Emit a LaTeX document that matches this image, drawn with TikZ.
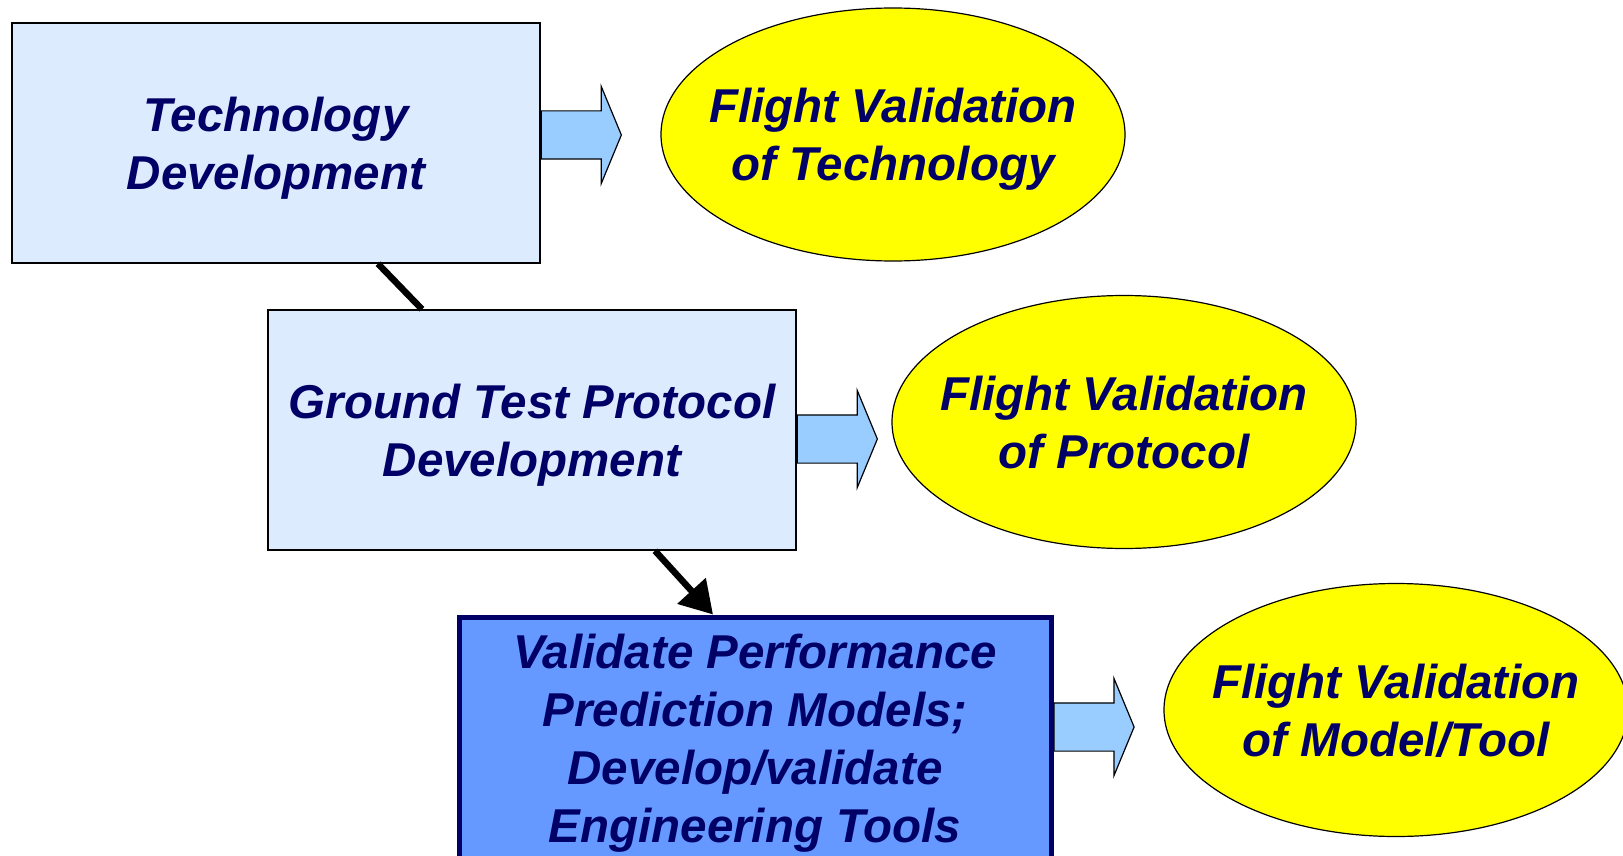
\documentclass[tikz,border=0pt]{standalone}
\usepackage{fontspec}
\setmainfont{Liberation Sans}
\usepackage{xcolor}
\usetikzlibrary{shapes,arrows.meta,positioning}

\definecolor{navy}{RGB}{0,0,102}
\definecolor{paleblue}{RGB}{221,235,255}
\definecolor{midblue}{RGB}{102,153,255}
\definecolor{arrowblue}{RGB}{153,204,255}
\definecolor{goalyellow}{RGB}{255,255,0}

\begin{document}
\begin{tikzpicture}[
    x=1pt, y=-1pt,
    font=\fontsize{47.5}{58}\selectfont\bfseries\itshape,
    box/.style={rectangle, draw, line width=1.5pt, fill=paleblue, minimum width=528pt, minimum height=240pt, align=center, text=navy, text depth=0pt},
    goal/.style={ellipse, draw, line width=1.2pt, fill=goalyellow, minimum width=464pt, minimum height=253pt, inner xsep=-50pt, inner ysep=0pt, align=center, text=navy, text depth=0pt},
    push/.style={single arrow, draw, line width=1.2pt, fill=arrowblue, minimum height=80pt, single arrow head extend=24.5pt, single arrow tip angle=135, inner xsep=0pt, inner ysep=23.5pt, anchor=west},
    link/.style={line width=6.5pt}
]
    \useasboundingbox (0,0) rectangle (1623,856);

    % Technology development
    \node[box] (tech) at (276,143) {Technology\\Development};

    % Ground test protocol
    \node[box] (ground) at (532,430) {Ground Test Protocol\\Development};

    % Models and tools
    \node[box, fill=midblue, draw=navy, line width=5pt, minimum width=592pt, minimum height=243pt] (valid) at (755,738.5) {Validate Performance\\Prediction Models;\\Develop/validate\\Engineering Tools};

    % Flight validation goals
    \node[goal] (fvtech) at (893,134.5) {Flight Validation\\of Technology};
    \node[goal] (fvprot) at (1124,422) {Flight Validation\\of Protocol};
    \node[goal] (fvtool) at (1396,710) {Flight Validation\\of Model/Tool};

    % Block arrows
    \node[push] (push1) at ([yshift=8pt]tech.east) {};
    \node[push] (push2) at ([yshift=-9pt]ground.east) {};
    \node[push] (push3) at ([yshift=11.5pt]valid.east) {};

    % Links between boxes
    \draw[link] ([xshift=102pt]tech.south) -- ([xshift=-110pt]ground.north);
    \draw[link, -{Triangle[length=32pt, width=37pt]}] ([xshift=123pt]ground.south) -- ([xshift=-42pt]valid.north);

\end{tikzpicture}
\end{document}
